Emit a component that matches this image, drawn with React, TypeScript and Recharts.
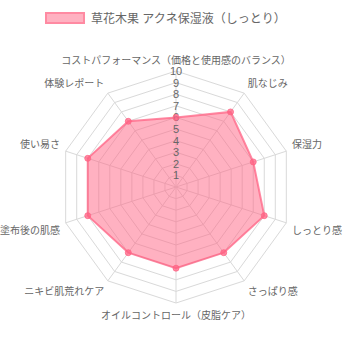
import { RadarChart, Radar, PolarGrid, PolarAngleAxis, PolarRadiusAxis, Legend } from "recharts"

const categories = [
  "コストパフォーマンス（価格と使用感のバランス）",
  "肌なじみ",
  "保湿力",
  "しっとり感",
  "さっぱり感",
  "オイルコントロール（皮脂ケア）",
  "ニキビ肌荒れケア",
  "塗布後の肌感",
  "使い易さ",
  "体験レポート",
]
const scores = [6, 8, 7, 8, 7, 7, 7, 8, 8, 7]
const radiusTicks = [0, 1, 2, 3, 4, 5, 6, 7, 8, 9, 10]
const seriesName = "草花木果 アクネ保湿液（しっとり）"

const CX = 176
const CY = 187
const R = 116
const FONT = '"Liberation Sans", "Noto Sans CJK JP", sans-serif'

const data = categories.map((name, i) => ({ name, value: scores[i] }))

function AngleTick(props: any) {
  const { payload } = props
  const idx = categories.indexOf(payload.value)
  const theta = (idx * 2 * Math.PI) / categories.length
  const sin = Math.sin(theta)
  const cos = Math.cos(theta)
  const px = CX + (R + 6) * sin
  const py = CY - (R + 6) * cos
  let anchor = "middle"
  if (sin > 0.05) anchor = "start"
  else if (sin < -0.05) anchor = "end"
  const y = cos > 0.05 ? py - 5 : cos < -0.05 ? py + 6 : py
  return (
    <text x={px} y={y} textAnchor={anchor} dominantBaseline="central" fontSize={10} fill="#666" fontFamily={FONT}>
      {payload.value}
    </text>
  )
}

function RadiusTick(props: any) {
  const { x, y, payload } = props
  if (payload.value === 0) return null
  return (
    <text x={x} y={y} textAnchor="middle" dominantBaseline="central" fontSize={11} fill="#666" fontFamily={FONT}>
      {payload.value}
    </text>
  )
}

function LegendBox() {
  return (
    <div style={{ display: "flex", alignItems: "center", fontFamily: FONT, fontSize: 12, color: "#666" }}>
      <span
        style={{
          display: "inline-block",
          width: 40,
          height: 12,
          boxSizing: "border-box",
          background: "rgba(255,99,132,0.5)",
          border: "2px solid rgba(255,99,132,0.5)",
          marginRight: 6,
        }}
      />
      <span>{seriesName}</span>
    </div>
  )
}

export default function App() {
  return (
    <div style={{ position: "absolute", left: 0, top: 0, width: 343, height: 343, background: "#fff" }}>
      <RadarChart width={343} height={343} data={data} cx={CX} cy={CY} outerRadius={R} margin={{ top: 0, right: 0, bottom: 0, left: 0 }}>
        <PolarGrid gridType="polygon" stroke="#d9d9d9" />
        <PolarAngleAxis dataKey="name" tick={<AngleTick />} tickLine={false} axisLine={false} />
        <PolarRadiusAxis
          angle={90}
          domain={[0, 10]}
          ticks={radiusTicks as any}
          tickCount={11}
          axisLine={false}
          tickLine={false}
          tick={<RadiusTick />}
        />
        <Radar
          name={seriesName}
          dataKey="value"
          stroke="rgba(255,99,132,0.75)"
          strokeWidth={2}
          fill="rgba(255,99,132,0.5)"
          fillOpacity={1}
          dot={{ r: 3, fill: "rgba(255,99,132,0.75)", stroke: "rgba(255,99,132,0.75)", strokeWidth: 1 }}
          isAnimationActive={false}
        />
        <Legend
          layout="horizontal"
          verticalAlign="middle"
          align="center"
          wrapperStyle={{ top: 9, left: 45, width: 260 }}
          content={() => <LegendBox />}
        />
      </RadarChart>
    </div>
  )
}
